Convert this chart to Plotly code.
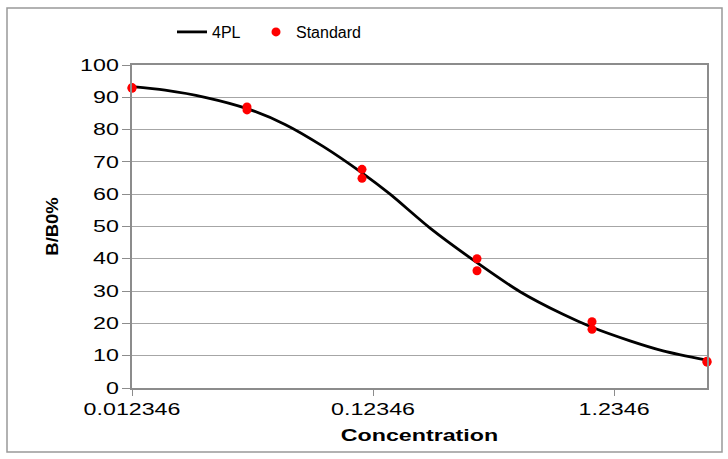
import math
import plotly.graph_objects as go

# Standard points (concentration, B/B0%)
std_conc = [0.012346, 0.012346, 0.037037, 0.037037, 0.11111, 0.11111,
            0.33333, 0.33333, 1.0, 1.0, 3.0, 3.0]
std_val = [93.0, 92.8, 87.0, 86.1, 67.7, 64.9, 40.0, 36.3, 20.5, 18.2, 8.3, 8.0]

# 4PL curve, values
curve_conc = [0.012346, 0.01693, 0.0248, 0.037037, 0.05326, 0.0766, 0.11111,
              0.1453, 0.2129, 0.33333, 0.503, 0.758, 1.0, 1.438, 1.972, 3.0]
curve_val = [93.3, 92.2, 90.0, 86.5, 81.6, 74.8, 66.6, 60.0, 49.5, 38.8,
             29.8, 22.8, 18.8, 14.6, 11.5, 8.6]

x_tickvals = [0.012346, 0.12346, 1.2346]
x_ticktext = ["0.012346", "0.12346", "1.2346"]

FONT = "Liberation Sans, Arial, sans-serif"
GRID = "#a6a6a6"
AXIS = "#8c8c8c"

fig = go.Figure()
fig.add_trace(go.Scatter(
    x=curve_conc, y=curve_val, mode="lines", name="4PL",
    line=dict(color="black", width=2.8, shape="spline", smoothing=0.8),
    cliponaxis=False, legend="legend",
))
fig.add_trace(go.Scatter(
    x=std_conc, y=std_val, mode="markers", name="Standard",
    marker=dict(color="#ff0000", size=9, line=dict(width=0)),
    cliponaxis=False, legend="legend2",
))

L, R, T, B = 132, 21, 65, 71
W, H = 728, 459
pw, ph = W - L - R, H - T - B

def px2fx(px):
    return (px - L) / pw

def py2fy(py):
    return (H - B - py) / ph

leg_common = dict(orientation="h", xanchor="left", y=py2fy(32), yanchor="middle",
                  font=dict(size=16), itemwidth=30, bgcolor="rgba(0,0,0,0)")

fig.update_layout(
    width=W, height=H,
    margin=dict(l=L, r=R, t=T, b=B),
    paper_bgcolor="white", plot_bgcolor="white",
    font=dict(family=FONT, size=16, color="black"),
    showlegend=True,
    legend=dict(x=px2fx(172), **leg_common),
    legend2=dict(x=px2fx(256), **leg_common),
    xaxis=dict(
        type="log",
        range=[math.log10(std_conc[0]), math.log10(std_conc[-1])],
        tickvals=x_tickvals, ticktext=x_ticktext,
        showgrid=False, zeroline=False,
        showline=True, linecolor=AXIS, linewidth=2, mirror=True,
        ticks="outside", ticklen=6, tickcolor=AXIS, tickwidth=1,
        tickfont=dict(size=16),
        title=dict(text="<b>Concentration</b>", font=dict(size=16), standoff=13),
    ),
    yaxis=dict(
        range=[0, 100], dtick=10,
        showgrid=True, gridcolor=GRID, gridwidth=1,
        zeroline=False,
        showline=True, linecolor=AXIS, linewidth=2, mirror=True,
        ticks="outside", ticklen=8, tickcolor=AXIS, tickwidth=1,
        tickfont=dict(size=16),
        title=dict(text="<b>B/B0%</b>", font=dict(size=16), standoff=29),
    ),
    shapes=[dict(
        type="rect", xref="paper", yref="paper",
        x0=px2fx(7), x1=px2fx(722), y0=py2fy(452), y1=py2fy(8),
        line=dict(color="#999999", width=1.5), fillcolor="rgba(0,0,0,0)",
        layer="below",
    )],
)

post = """
document.body.style.margin = '0';
var gd = document.getElementById('{plot_id}');
function stretch(sel, f) {
  gd.querySelectorAll(sel).forEach(function (t) {
    try {
      var w = t.getComputedTextLength();
      if (w > 0) {
        t.setAttribute('textLength', (w * f).toFixed(1));
        t.setAttribute('lengthAdjust', 'spacingAndGlyphs');
      }
    } catch (e) {}
  });
}
stretch('.xtick text', 1.45);
stretch('.ytick text', 1.45);
stretch('text.xtitle', 1.45);
stretch('text.ytitle', 1.15);
"""

fig.write_html("out.html", post_script=post, config={"displayModeBar": False})
